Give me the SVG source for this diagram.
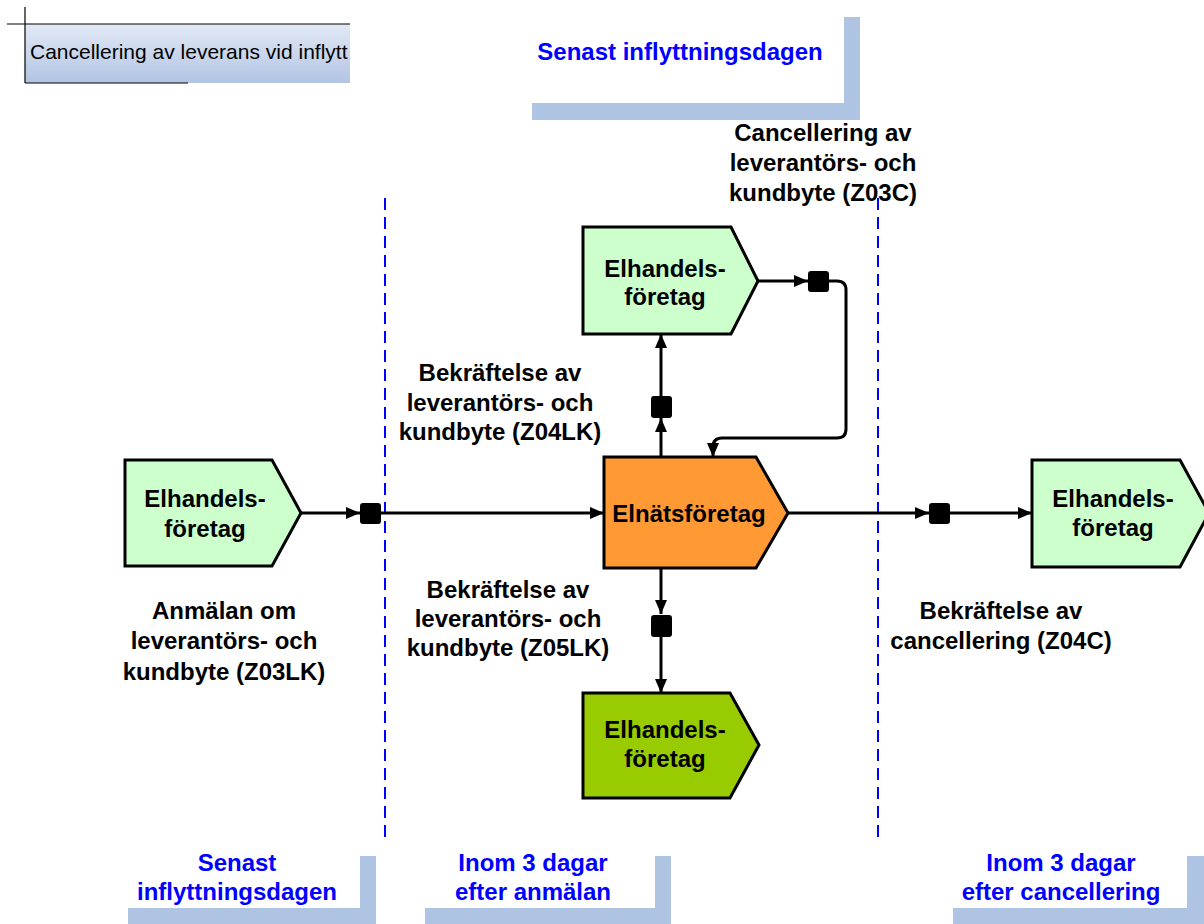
<svg xmlns="http://www.w3.org/2000/svg" width="1204" height="924" viewBox="0 0 1204 924">
<style>
.node{stroke:#000;stroke-width:3;stroke-linejoin:miter}
.lt{fill:#ccffcc}
.or{fill:#ff9933}
.dg{fill:#99cc00}
.lbl{font-family:"Liberation Sans",Arial,sans-serif;font-weight:bold;font-size:24px;fill:#000;text-anchor:middle}
.blue{font-family:"Liberation Sans",Arial,sans-serif;font-weight:bold;font-size:24px;fill:#0000ff;text-anchor:middle}
.bar{fill:#afc3e2}
.conn{fill:none;stroke:#000;stroke-width:3}
.sq{fill:#000}
.dash{stroke:#0000ff;stroke-width:2;stroke-dasharray:12,7;fill:none}
</style>
<defs>
<marker id="arr" viewBox="0 0 14 12" refX="14" refY="6" markerWidth="14" markerHeight="12" markerUnits="userSpaceOnUse" orient="auto">
<path d="M0,0 L14,6 L0,12 z" fill="#000"/>
</marker>
<linearGradient id="tg" x1="0" y1="0" x2="0" y2="1">
<stop offset="0" stop-color="#e2e9f5"/>
<stop offset="1" stop-color="#b2c4e3"/>
</linearGradient>
</defs>

<g id="title">
<rect x="25" y="24" width="325" height="59" fill="url(#tg)"/>
<line x1="7" y1="24" x2="350" y2="24" stroke="#000" stroke-width="1.2"/>
<line x1="25" y1="7" x2="25" y2="83" stroke="#000" stroke-width="1.2"/>
<line x1="25" y1="83" x2="188" y2="83" stroke="#000" stroke-width="1.2"/>
<text x="30" y="59" font-family="'Liberation Sans',Arial,sans-serif" font-size="21" fill="#000">Cancellering av leverans vid inflytt</text>
</g>

<g id="time-top">
<rect class="bar" x="844" y="17" width="16" height="103"/>
<rect class="bar" x="532" y="103" width="328" height="17"/>
<text class="blue" x="680" y="60">Senast inflyttningsdagen</text>
</g>

<g id="time-bottom-1">
<rect class="bar" x="360" y="856" width="16" height="68"/>
<rect class="bar" x="128" y="908" width="248" height="16"/>
<text class="blue" x="237" y="871">Senast</text>
<text class="blue" x="237" y="900">inflyttningsdagen</text>
</g>

<g id="time-bottom-2">
<rect class="bar" x="655" y="856" width="16" height="68"/>
<rect class="bar" x="425" y="908" width="246" height="16"/>
<text class="blue" x="533" y="871">Inom 3 dagar</text>
<text class="blue" x="533" y="900">efter anmälan</text>
</g>

<g id="time-bottom-3">
<rect class="bar" x="1187" y="856" width="17" height="68"/>
<rect class="bar" x="953" y="908" width="251" height="16"/>
<text class="blue" x="1061" y="871">Inom 3 dagar</text>
<text class="blue" x="1061" y="900">efter cancellering</text>
</g>

<g id="dividers">
<line class="dash" x1="385" y1="198" x2="385" y2="842"/>
<line class="dash" x1="878" y1="198" x2="878" y2="842"/>
</g>

<g id="connectors">
<path class="conn" d="M301,513 L360,513" marker-end="url(#arr)"/>
<path class="conn" d="M381,513 L604,513" marker-end="url(#arr)"/>
<path class="conn" d="M788,513 L929,513" marker-end="url(#arr)"/>
<path class="conn" d="M949,513 L1032,513" marker-end="url(#arr)"/>
<path class="conn" d="M661,457 L661,418" marker-end="url(#arr)"/>
<path class="conn" d="M661,396 L661,334" marker-end="url(#arr)"/>
<path class="conn" d="M758,281 L808,281" marker-end="url(#arr)"/>
<path class="conn" d="M829,281 L837,281 Q846,281 846,290 L846,429 Q846,438 837,438 L722,438 Q713,438 713,447 L713,457" marker-end="url(#arr)"/>
<path class="conn" d="M661,568 L661,614" marker-end="url(#arr)"/>
<path class="conn" d="M661,637 L661,693" marker-end="url(#arr)"/>
<rect class="sq" x="360" y="503" width="21" height="21" rx="3"/>
<rect class="sq" x="929" y="503" width="21" height="21" rx="3"/>
<rect class="sq" x="651" y="396" width="21" height="22" rx="3"/>
<rect class="sq" x="808" y="271" width="21" height="21" rx="3"/>
<rect class="sq" x="651" y="615" width="21" height="22" rx="3"/>
</g>

<g id="node-left">
<polygon class="node lt" points="125,460 272,460 301,513 272,566 125,566"/>
<text class="lbl" x="205" y="507">Elhandels-</text>
<text class="lbl" x="205" y="537">företag</text>
</g>

<g id="node-top">
<polygon class="node lt" points="583,227 731,227 758,281 731,334 583,334"/>
<text class="lbl" x="665" y="277">Elhandels-</text>
<text class="lbl" x="665" y="305">företag</text>
</g>

<g id="node-center">
<polygon class="node or" points="604,457 756,457 788,513 756,568 604,568"/>
<text class="lbl" x="689" y="522">Elnätsföretag</text>
</g>

<g id="node-bottom">
<polygon class="node dg" points="583,693 730,693 759,745 730,798 583,798"/>
<text class="lbl" x="665" y="738">Elhandels-</text>
<text class="lbl" x="665" y="767">företag</text>
</g>

<g id="node-right">
<polygon class="node lt" points="1032,460 1180,460 1209,513 1180,567 1032,567"/>
<text class="lbl" x="1113" y="507">Elhandels-</text>
<text class="lbl" x="1113" y="536">företag</text>
</g>

<g id="labels">
<text class="lbl" x="823" y="141">Cancellering av</text>
<text class="lbl" x="823" y="171">leverantörs- och</text>
<text class="lbl" x="823" y="201">kundbyte (Z03C)</text>
<text class="lbl" x="500" y="381">Bekräftelse av</text>
<text class="lbl" x="500" y="411">leverantörs- och</text>
<text class="lbl" x="500" y="440">kundbyte (Z04LK)</text>
<text class="lbl" x="224" y="619">Anmälan om</text>
<text class="lbl" x="224" y="649">leverantörs- och</text>
<text class="lbl" x="224" y="680">kundbyte (Z03LK)</text>
<text class="lbl" x="508" y="598">Bekräftelse av</text>
<text class="lbl" x="508" y="627">leverantörs- och</text>
<text class="lbl" x="508" y="656">kundbyte (Z05LK)</text>
<text class="lbl" x="1001" y="619">Bekräftelse av</text>
<text class="lbl" x="1001" y="649">cancellering (Z04C)</text>
</g>
</svg>
